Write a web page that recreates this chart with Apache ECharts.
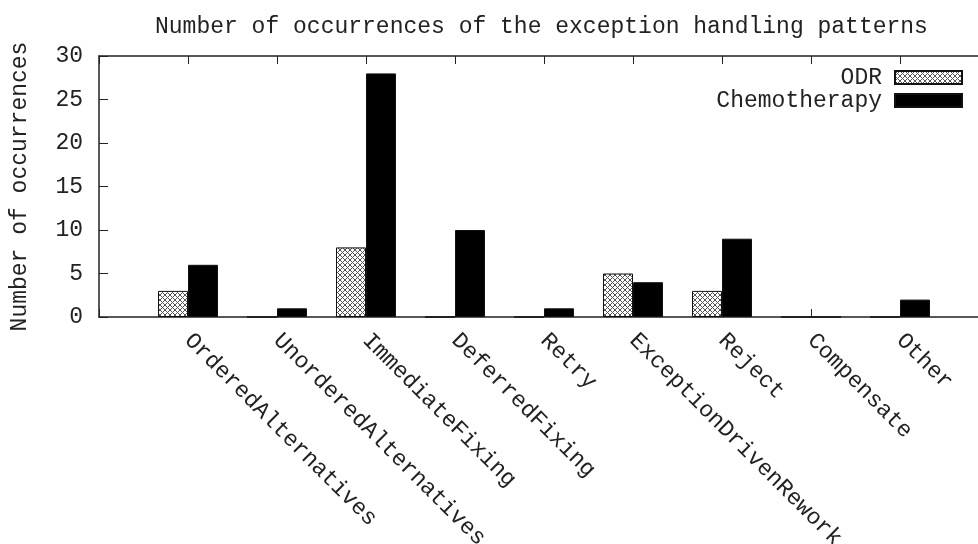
<!DOCTYPE html>
<html>
<head>
<meta charset="utf-8">
<script src="https://cdn.jsdelivr.net/npm/echarts@6/dist/echarts.min.js"></script>
<style>
  html, body { margin: 0; padding: 0; background: #fff; }
  #main { width: 978px; height: 544px; }
</style>
</head>
<body>
<div id="main"></div>
<script>
    // data
    var categories = ['OrderedAlternatives', 'UnorderedAlternatives', 'ImmediateFixing', 'DeferredFixing',
        'Retry', 'ExceptionDrivenRework', 'Reject', 'Compensate', 'Other'];
    var odr = [3, 0, 8, 0, 0, 5, 3, 0, 0];
    var chemo = [6, 1, 28, 10, 1, 4, 9, 0, 2];
    var yMin = 0, yMax = 30, yStep = 5;

    // gnuplot style: an empty slot on each side of the categories
    var cats = [''].concat(categories, ['']);
    var odrData = ['-'].concat(odr, ['-']);
    var chemoData = ['-'].concat(chemo, ['-']);

    // crosshatch fill
    var pc = document.createElement('canvas');
    pc.width = 5; pc.height = 5;
    var ctx = pc.getContext('2d');
    ctx.fillStyle = '#fff';
    ctx.fillRect(0, 0, 5, 5);
    ctx.strokeStyle = '#555';
    ctx.lineWidth = 1;
    ctx.beginPath();
    ctx.moveTo(0, 0); ctx.lineTo(5, 5);
    ctx.moveTo(5, 0); ctx.lineTo(0, 5);
    ctx.stroke();
    var hatch = { image: pc, repeat: 'repeat' };

    var font = 'Liberation Mono';
    var ink = '#222';

    var chart = echarts.init(document.getElementById('main'));
    chart.setOption({
        animation: false,
        title: {
            text: 'Number of occurrences of the exception handling patterns',
            left: 150, top: 10,
            textStyle: { fontFamily: font, fontSize: 23, fontWeight: 'normal', color: ink }
        },
        legend: [{
            data: ['ODR'], right: 10, top: 61, orient: 'vertical', align: 'right',
            icon: 'rect', itemWidth: 67, itemHeight: 13,
            textStyle: { fontFamily: font, fontSize: 23, color: ink, padding: [0, 8, 0, 0] }
        }, {
            data: ['Chemotherapy'], right: 10, top: 84, orient: 'vertical', align: 'right',
            icon: 'rect', itemWidth: 67, itemHeight: 13,
            textStyle: { fontFamily: font, fontSize: 23, color: ink, padding: [0, 8, 0, 0] }
        }],
        grid: { left: 99, top: 56, right: -11, bottom: 227, outerBoundsMode: 'none', containLabel: false },
        xAxis: [{
            type: 'category', data: cats, boundaryGap: false, position: 'bottom',
            axisLine: { lineStyle: { color: ink, width: 1.5 } },
            axisTick: { inside: true, length: 8, interval: 0, lineStyle: { color: ink } },
            axisLabel: { interval: 0, rotate: -45, margin: 20, fontFamily: font, fontSize: 23, color: ink },
            splitLine: { show: false }
        }, {
            type: 'category', data: cats, boundaryGap: false, position: 'top',
            axisLine: { lineStyle: { color: ink, width: 1.5 } },
            axisTick: { inside: true, length: 8, interval: 0, lineStyle: { color: ink } },
            axisLabel: { show: false },
            splitLine: { show: false }
        }],
        yAxis: {
            type: 'value', min: yMin, max: yMax, interval: yStep,
            name: 'Number of occurrences', nameLocation: 'middle', nameGap: 68,
            nameTextStyle: { fontFamily: font, fontSize: 23, color: ink },
            axisLine: { show: true, lineStyle: { color: ink, width: 1.5 } },
            axisTick: { show: true, inside: true, length: 9, lineStyle: { color: ink } },
            axisLabel: { margin: 16, fontFamily: font, fontSize: 23, color: ink },
            splitLine: { show: false }
        },
        series: [{
            name: 'ODR', type: 'bar', xAxisIndex: 0, data: odrData,
            barWidth: 30, barGap: '0%',
            itemStyle: { color: hatch, borderColor: '#111', borderWidth: 1 }
        }, {
            name: 'Chemotherapy', type: 'bar', xAxisIndex: 0, data: chemoData,
            barWidth: 30, barGap: '0%',
            itemStyle: { color: '#000', borderColor: '#111', borderWidth: 1 }
        }]
    });
</script>
</body>
</html>
